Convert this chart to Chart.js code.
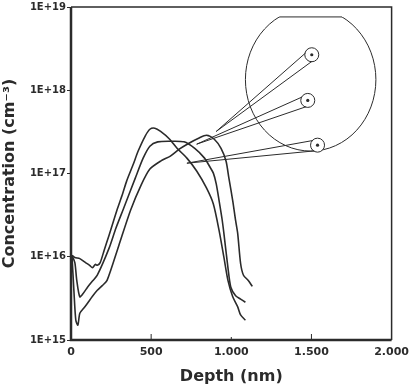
<!DOCTYPE html>
<html>
<head>
<meta charset="utf-8">
<script src="https://cdn.jsdelivr.net/npm/chart.js@4"></script>
<style>
  html, body { margin: 0; padding: 0; background: #fff; }
</style>
</head>
<body>
<canvas id="profil" width="415" height="386"></canvas>
<script>
// depth in nm, concentration in cm-3
const depthA = [6, 24, 55, 91, 116, 134, 152, 164, 182, 207, 237, 286, 322, 347, 389, 419, 462, 492, 523, 559, 614, 663, 723, 784, 845, 888, 924, 954, 979, 1009, 1040, 1058, 1088];
const concA = [1.04e16, 9.8e15, 9.5e15, 8.5e15, 7.9e15, 7.4e15, 8.1e15, 7.9e15, 8.5e15, 1.2e16, 1.8e16, 3.6e16, 5.7e16, 8.1e16, 1.3e17, 1.86e17, 2.8e17, 3.4e17, 3.5e17, 3.2e17, 2.6e17, 2.0e17, 1.53e17, 1.07e17, 6.7e16, 4.3e16, 2.06e16, 9.8e15, 5.2e15, 3.3e15, 2.5e15, 2.0e15, 1.73e15];

const depthB = [6, 24, 36, 55, 79, 103, 134, 164, 237, 280, 328, 401, 450, 492, 541, 620, 705, 772, 833, 863, 888, 906, 924, 942, 954, 979, 997, 1027, 1058, 1088];
const concB = [1.04e16, 8.5e15, 5.2e15, 3.3e15, 3.7e15, 4.3e15, 5.1e15, 6.0e15, 1.26e16, 2.2e16, 3.8e16, 8.8e16, 1.53e17, 2.13e17, 2.4e17, 2.44e17, 2.4e17, 2.0e17, 1.53e17, 1.23e17, 1.01e17, 7.5e16, 4.7e16, 2.86e16, 1.9e16, 7.4e15, 4.3e15, 3.4e15, 3.1e15, 2.84e15];

const depthC = [6, 18, 30, 43, 55, 79, 103, 134, 164, 195, 225, 298, 371, 438, 492, 559, 620, 675, 736, 796, 845, 894, 936, 967, 985, 1009, 1027, 1040, 1058, 1076, 1106, 1131];
const concC = [1.04e16, 3.95e15, 1.73e15, 1.51e15, 2.1e15, 2.4e15, 2.77e15, 3.35e15, 3.95e15, 4.5e15, 5.2e15, 1.36e16, 3.6e16, 7.3e16, 1.13e17, 1.41e17, 1.62e17, 1.96e17, 2.31e17, 2.65e17, 2.88e17, 2.58e17, 2.0e17, 1.41e17, 8.8e16, 4.7e16, 2.71e16, 1.9e16, 8.3e15, 6.0e15, 5.2e15, 4.4e15];

const xTickValues = [0, 500, 1000, 1500, 2000];
const xTickLabels = ['0', '500', '1.000', '1.500', '2.000'];
const yTickValues = [1e15, 1e16, 1e17, 1e18, 1e19];
const yTickLabels = ['1E+15', '1E+16', '1E+17', '1E+18', '1E+19'];

// wafer sketch with the three measuring points (in data units)
const wafer = { centerDepth: 1495, halfWidth: 407, topConc: 9.7e18, bottomConc: 1.86e17, flatConc: 7.6e18 };
const probes = [
    { depth: 1502, conc: 2.67e18, toDepth: 906, toConc: 3.2e17 },
    { depth: 1477, conc: 7.55e17, toDepth: 784, toConc: 2.25e17 },
    { depth: 1538, conc: 2.19e17, toDepth: 723, toConc: 1.33e17 }
];

const INK = '#2b2b2b';

function punkte(depth, conc) {
    return depth.map((d, i) => ({ x: d, y: conc[i] }));
}

const rahmenPlugin = {
    id: 'rahmen',
    afterDatasetsDraw(chart) {
        const ctx = chart.ctx;
        const a = chart.chartArea;
        const sx = chart.scales.x, sy = chart.scales.y;
        ctx.save();
        ctx.strokeStyle = INK;
        ctx.lineCap = 'butt';

        // frame: heavier left and bottom
        ctx.lineWidth = 1.5;
        ctx.beginPath();
        ctx.moveTo(a.left, a.top); ctx.lineTo(a.right, a.top); ctx.lineTo(a.right, a.bottom);
        ctx.stroke();
        ctx.lineWidth = 2.5;
        ctx.beginPath();
        ctx.moveTo(a.left, a.top); ctx.lineTo(a.left, a.bottom); ctx.lineTo(a.right, a.bottom);
        ctx.stroke();

        // inner ticks on x axis
        ctx.lineWidth = 1;
        [500, 1000, 1500].forEach(v => {
            const px = sx.getPixelForValue(v);
            ctx.beginPath();
            ctx.moveTo(px, a.bottom);
            ctx.lineTo(px, a.bottom - (v === 1000 ? 3 : 6));
            ctx.stroke();
        });

        // wafer outline, flat at the top
        const cx = sx.getPixelForValue(wafer.centerDepth);
        const rx = sx.getPixelForValue(wafer.centerDepth + wafer.halfWidth) - cx;
        const yTop = sy.getPixelForValue(wafer.topConc);
        const yBot = sy.getPixelForValue(wafer.bottomConc);
        const cy = (yTop + yBot) / 2, ry = (yBot - yTop) / 2;
        const yFlat = sy.getPixelForValue(wafer.flatConc);
        const hw = rx * Math.sqrt(1 - Math.pow((cy - yFlat) / ry, 2));
        ctx.lineWidth = 1;
        ctx.save();
        ctx.beginPath();
        ctx.rect(0, yFlat, chart.width, chart.height);
        ctx.clip();
        ctx.beginPath();
        ctx.ellipse(cx, cy, rx, ry, 0, 0, Math.PI * 2);
        ctx.stroke();
        ctx.restore();
        ctx.beginPath();
        ctx.moveTo(cx - hw, yFlat); ctx.lineTo(cx + hw, yFlat);
        ctx.stroke();

        // probe points with pointers
        probes.forEach(p => {
            const px = sx.getPixelForValue(p.depth), py = sy.getPixelForValue(p.conc);
            const ex = sx.getPixelForValue(p.toDepth), ey = sy.getPixelForValue(p.toConc);
            const r = 7;
            const dx = ex - px, dy = ey - py, len = Math.hypot(dx, dy);
            const nx = -dy / len * r * 0.75, ny = dx / len * r * 0.75;
            ctx.lineWidth = 1;
            ctx.beginPath();
            ctx.arc(px, py, r, 0, Math.PI * 2);
            ctx.fillStyle = '#fff';
            ctx.fill();
            ctx.stroke();
            ctx.beginPath();
            ctx.moveTo(px + nx + dx / len * 4, py + ny + dy / len * 4); ctx.lineTo(ex, ey);
            ctx.moveTo(px - nx + dx / len * 4, py - ny + dy / len * 4); ctx.lineTo(ex, ey);
            ctx.stroke();
            ctx.fillStyle = INK;
            ctx.beginPath();
            ctx.arc(px, py, 1.6, 0, Math.PI * 2);
            ctx.fill();
        });
        ctx.restore();
    }
};

const linie = {
    borderColor: INK,
    borderWidth: 1.6,
    pointRadius: 0,
    tension: 0.25,
    fill: false
};

new Chart(document.getElementById('profil'), {
    type: 'line',
    data: {
        datasets: [
            Object.assign({ label: 'A', data: punkte(depthA, concA) }, linie),
            Object.assign({ label: 'B', data: punkte(depthB, concB) }, linie),
            Object.assign({ label: 'C', data: punkte(depthC, concC) }, linie)
        ]
    },
    options: {
        responsive: false,
        animation: false,
        layout: { padding: { top: 5, right: 15, left: 0, bottom: 0 } },
        plugins: { legend: { display: false }, tooltip: { enabled: false } },
        scales: {
            x: {
                type: 'linear',
                min: 0,
                max: 2000,
                border: { display: false },
                grid: { display: true, drawOnChartArea: false, drawTicks: false, color: 'rgba(0,0,0,0)' },
                afterBuildTicks: s => { s.ticks = xTickValues.map(v => ({ value: v })); },
                ticks: {
                    padding: 6,
                    color: INK,
                    font: { family: 'DejaVu Sans', size: 11, weight: 'bold' },
                    maxRotation: 0,
                    callback: v => xTickLabels[xTickValues.indexOf(v)]
                },
                title: {
                    display: true,
                    text: 'Depth (nm)',
                    color: INK,
                    padding: { top: 0, bottom: 0 },
                    font: { family: 'DejaVu Sans', size: 16, weight: 'bold' }
                },
                afterFit: s => { s.height = 46; }
            },
            y: {
                type: 'logarithmic',
                min: 1e15,
                max: 1e19,
                border: { display: false },
                grid: { drawOnChartArea: false, tickLength: 4, color: INK },
                afterBuildTicks: s => { s.ticks = yTickValues.map(v => ({ value: v })); },
                ticks: {
                    padding: 1,
                    color: INK,
                    font: { family: 'DejaVu Sans', size: 10, weight: 'bold' },
                    callback: v => yTickLabels[yTickValues.indexOf(v)]
                },
                title: {
                    display: true,
                    text: 'Concentration (cm⁻³)',
                    color: INK,
                    padding: { top: 0, bottom: 0 },
                    font: { family: 'DejaVu Sans', size: 16, weight: 'bold' }
                },
                afterFit: s => { s.width = 71; }
            }
        }
    },
    plugins: [rahmenPlugin]
});
</script>
</body>
</html>
